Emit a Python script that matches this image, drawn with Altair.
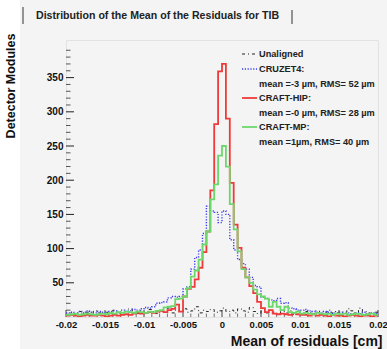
import altair as alt
import pandas as pd

# Histogram binning of the mean residual (cm)
BIN_WIDTH = 0.0005
X_LO, X_HI = -0.02, 0.02
N_BINS = 80

# Bin contents, from x = -0.02 to 0.02 (80 bins of 5 um)
unaligned = [4, 6, 3, 8, 5, 7, 4, 9, 6, 5,
             7, 5, 10, 6, 4, 8, 12, 7, 5, 9,
             6, 11, 8, 5, 9, 7, 13, 6, 10, 8,
             12, 7, 9, 15, 6, 10, 8, 11, 7, 9,
             13, 8, 10, 6, 12, 9, 7, 14, 8, 5,
             9, 6, 10, 7, 5, 8, 6, 9, 4, 7,
             5, 8, 6, 4, 9, 5, 7, 10, 6, 8,
             5, 7, 12, 9, 6, 13, 8, 6, 4, 7]
cruzet4 = [6, 7, 5, 8, 6, 9, 7, 6, 8, 7,
           6, 8, 9, 7, 10, 8, 9, 11, 10, 12,
           14, 13, 15, 20, 21, 22, 28, 30, 29, 30,
           41, 44, 70, 87, 98, 122, 162, 155, 153, 138,
           155, 150, 113, 98, 84, 78, 70, 58, 46, 44,
           29, 27, 25, 24, 27, 20, 21, 13, 12, 10,
           10, 11, 9, 8, 7, 6, 8, 7, 5, 6,
           7, 5, 6, 5, 6, 5, 7, 5, 6, 5]
craft_hip = [2, 3, 2, 1, 2, 3, 2, 2, 3, 2,
             1, 2, 3, 2, 3, 4, 3, 5, 6, 5,
             6, 7, 6, 8, 9, 7, 10, 12, 18, 8,
             30, 41, 44, 55, 72, 95, 125, 185, 282, 359,
             370, 290, 196, 135, 101, 72, 58, 45, 35, 22,
             13, 7, 10, 5, 4, 5, 4, 3, 6, 4,
             3, 3, 2, 4, 2, 3, 2, 1, 3, 2,
             2, 1, 2, 3, 2, 1, 2, 2, 1, 2]
craft_mp = [3, 4, 5, 3, 4, 5, 4, 3, 4, 5,
            4, 6, 5, 7, 6, 8, 7, 6, 8, 7,
            6, 8, 7, 9, 10, 14, 15, 16, 26, 27,
            30, 42, 59, 68, 84, 106, 125, 172, 194, 236,
            250, 220, 165, 128, 96, 70, 58, 50, 40, 33,
            30, 27, 15, 22, 15, 10, 15, 7, 6, 8,
            5, 6, 5, 4, 6, 5, 4, 5, 3, 5,
            4, 5, 3, 4, 5, 4, 3, 4, 5, 3]

series_names = ["Unaligned", "CRUZET4", "CRAFT-HIP", "CRAFT-MP"]
series_stats = ["", "mean =-3 \u00b5m, RMS= 52 \u00b5m",
                "mean =-0 \u00b5m, RMS= 28 \u00b5m", "mean =1\u00b5m, RMS= 40 \u00b5m"]
series_colors = ["#222222", "#3a3af0", "#f03a3a", "#6cd86c"]

x_tick_values = [-0.02, -0.015, -0.01, -0.005, 0, 0.005, 0.01, 0.015, 0.02]
y_tick_values = [50, 100, 150, 200, 250, 300, 350]

title_text = "Distribution of the Mean of the Residuals for TIB"
x_title = "Mean of residuals [cm]"
y_title = "Detector Modules"

FONT = "Liberation Sans"
W, H = 312, 277
Y_MAX = 405

xscale = alt.Scale(domain=[X_LO, X_HI], nice=False, zero=False)
yscale = alt.Scale(domain=[0, Y_MAX], nice=False)

edges = [round(X_LO + i * BIN_WIDTH, 6) for i in range(N_BINS + 1)]

x_axis = alt.Axis(
    values=x_tick_values, labelExpr="'' + datum.value", ticks=False, domain=False,
    grid=False, labelFont=FONT, labelFontWeight="bold", labelFontSize=9.5,
    labelColor="#111", labelPadding=2, labelFlush=False, labelOverlap=False,
    labelBound=False, title=x_title, titleFont=FONT, titleFontWeight="bold",
    titleFontSize=14, titleColor="#111", titleAlign="right", titleAnchor="end",
    titleX=W + 4, titleY=28, titleBaseline="alphabetic", zindex=1)
y_axis = alt.Axis(
    values=y_tick_values, ticks=False, domain=False, grid=False,
    labelFont=FONT, labelFontWeight="bold", labelFontSize=10, labelColor="#111",
    labelPadding=3, title=y_title, titleFont=FONT, titleFontWeight="bold",
    titleFontSize=12.5, titleColor="#111", titleAngle=-90, titleAlign="right",
    titleAnchor="end", titleBaseline="middle", titleX=-56, titleY=-7, zindex=1)


def step_frame(counts):
    # outline of a histogram: left edge of every bin, plus the last right edge
    return pd.DataFrame({"x": edges, "y": list(counts) + [counts[-1]]})


def hist_layer(counts, color, width, dash=None):
    kw = dict(interpolate="step-after", color=color, strokeWidth=width, clip=True)
    if dash:
        kw["strokeDash"] = dash
    return alt.Chart(step_frame(counts)).mark_line(**kw).encode(
        x=alt.X("x:Q", scale=xscale, axis=x_axis),
        y=alt.Y("y:Q", scale=yscale, axis=y_axis))


one_row = pd.DataFrame({"a": [0]})

# white margin strip on the far left
strip = alt.Chart(one_row).mark_rect(color="white", clip=False).encode(
    x=alt.value(-66), x2=alt.value(-46), y=alt.value(-40), y2=alt.value(H + 32))

# inward tick marks on the y and x axes
y_major = pd.DataFrame({"y": y_tick_values})
y_minor = pd.DataFrame({"y": [v for v in range(10, Y_MAX, 10) if v % 50]})
x_major = pd.DataFrame({"x": x_tick_values})
x_minor = pd.DataFrame({"x": [round(X_LO + i * 0.001, 4) for i in range(41) if i % 5]})

ytick_major = alt.Chart(y_major).mark_rule(color="#222", strokeWidth=1).encode(
    y=alt.Y("y:Q", scale=yscale, axis=y_axis), x=alt.value(0), x2=alt.value(8))
ytick_minor = alt.Chart(y_minor).mark_rule(color="#555", strokeWidth=1).encode(
    y=alt.Y("y:Q", scale=yscale, axis=y_axis), x=alt.value(0), x2=alt.value(4.5))
xtick_major = alt.Chart(x_major).mark_rule(color="#444", strokeWidth=1).encode(
    x=alt.X("x:Q", scale=xscale, axis=x_axis), y=alt.value(H), y2=alt.value(H - 7))
xtick_minor = alt.Chart(x_minor).mark_rule(color="#777", strokeWidth=1).encode(
    x=alt.X("x:Q", scale=xscale, axis=x_axis), y=alt.value(H), y2=alt.value(H - 3.5))

h_black = hist_layer(unaligned, series_colors[0], 1, dash=[3, 3, 1, 3])
h_blue = hist_layer(cruzet4, series_colors[1], 1.4, dash=[1.2, 1.6])
h_red = hist_layer(craft_hip, series_colors[2], 1.8)
h_green = hist_layer(craft_mp, series_colors[3], 1.8)

# title pave
title_mark = alt.Chart(pd.DataFrame({"t": [title_text]})).mark_text(
    font=FONT, fontWeight="bold", fontSize=10.6, color="#222", align="left",
    baseline="middle", clip=False).encode(text="t:N", x=alt.value(-30), y=alt.value(-24))
pave = [
    alt.Chart(one_row).mark_rule(color="#333", strokeWidth=1, clip=False).encode(
        x=alt.value(px), y=alt.value(y0), y2=alt.value(-16))
    for px, y0 in [(-43, -33), (226, -30)]
]

# legend, top right inside the frame
LX0, LX1, TX = 176, 191, 193
legend_layers = []
row_y = [14, 29, 58, 87]
for name, stat, color, ry, dash, sw in zip(series_names, series_stats, series_colors, row_y,
                                           [[3, 3, 1, 3], [1.2, 1.6], None, None],
                                           [1, 1.4, 1.8, 1.8]):
    lkw = dict(color=color, strokeWidth=sw, clip=False)
    if dash:
        lkw["strokeDash"] = dash
    legend_layers.append(alt.Chart(one_row).mark_rule(**lkw).encode(
        x=alt.value(LX0), x2=alt.value(LX1), y=alt.value(ry)))
    lines = [name + ("" if name == "Unaligned" else ":")]
    if stat:
        lines.append(stat)
    for j, s in enumerate(lines):
        legend_layers.append(alt.Chart(pd.DataFrame({"t": [s]})).mark_text(
            font=FONT, fontWeight="bold", fontSize=9.2, color="#222", align="left",
            baseline="middle", clip=False).encode(
            text="t:N", x=alt.value(TX), y=alt.value(ry + j * 14.5)))

chart = alt.layer(
    strip, ytick_minor, ytick_major, xtick_minor, xtick_major,
    h_black, h_blue, h_red, h_green, title_mark, *pave, *legend_layers
).properties(
    width=W, height=H, background="#f4f4f4",
    padding={"left": 66, "top": 40, "right": 9, "bottom": 32},
    autosize=alt.AutoSizeParams(type="none")
).configure_view(stroke="#e2e2e2", strokeWidth=1)

chart.save("out.html", embed_options={"renderer": "svg", "actions": False})
